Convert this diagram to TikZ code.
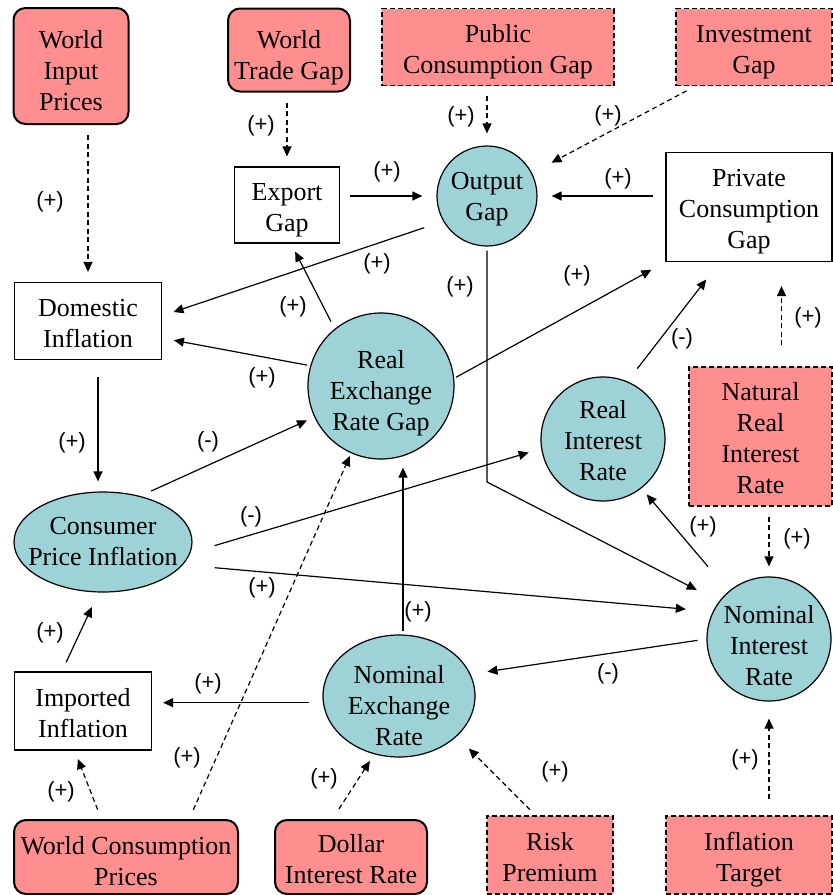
\documentclass[tikz,border=0pt]{standalone}
\usepackage{fontspec}
\setmainfont{Liberation Serif}
\newfontfamily\signfont{Liberation Sans}
\usetikzlibrary{shapes.geometric, arrows.meta}

\definecolor{exopink}{RGB}{255,143,143}
\definecolor{endoteal}{RGB}{157,210,214}

% block text, set a little below the centre of its shape
\newcommand{\blk}[2][-2.2pt]{\raisebox{#1}[\height][\depth]{\begin{tabular}{@{}c@{}}#2\end{tabular}}}

\begin{document}
\begin{tikzpicture}[x=0.5pt, y=-0.5pt,
  every node/.style={font=\fontsize{13}{15.5}\selectfont, inner sep=0pt},
  extbox/.style={draw, line width=1pt, rounded corners=6pt, fill=exopink},
  shockbox/.style={draw, dash pattern=on 2.5pt off 1.5pt, line width=0.6pt, fill=exopink},
  auxbox/.style={draw, line width=0.6pt, fill=white},
  varcirc/.style={draw, circle, inner sep=-3pt, line width=0.6pt, fill=endoteal},
  varellip/.style={draw, ellipse, inner ysep=-6pt, line width=0.6pt, fill=endoteal},
  link/.style={line width=0.6pt, -{Triangle[length=5pt,width=4.5pt]}, shorten <=5pt, shorten >=5pt},
  dlink/.style={link, dash pattern=on 2.5pt off 1.75pt},
  sign/.style={font=\signfont\fontsize{11}{13}\selectfont}
]
\useasboundingbox (0,0) rectangle (833,895);

% exogenous blocks, top row
\node[extbox, minimum width=57.5pt, minimum height=58pt] (wip) at (71,66) {\blk[-3.7pt]{World\\Input\\Prices}};
\node[extbox, minimum width=61pt, minimum height=41.5pt] (wtg) at (289,50) {\blk[-3.7pt]{World\\Trade Gap}};
\node[shockbox, minimum width=116pt, minimum height=38.5pt] (pcg) at (498,47) {\blk{Public\\Consumption Gap}};
\node[shockbox, minimum width=78pt, minimum height=38.5pt] (ivg) at (754,47) {\blk{Investment\\Gap}};

% middle part
\node[auxbox, minimum width=52.5pt, minimum height=38pt] (exg) at (287,205) {\blk{Export\\Gap}};
\node[varcirc, minimum size=50pt] (out) at (487,196) {\blk[-1.2pt]{Output\\Gap}};
\node[auxbox, minimum width=83pt, minimum height=54.5pt] (pvc) at (749,207) {\blk{Private\\Consumption\\Gap}};
\node[auxbox, minimum width=73.5pt, minimum height=38.5pt] (dom) at (88,321) {\blk{Domestic\\Inflation}};
\node[varcirc, minimum size=73pt] (rer) at (381,386) {\blk[-3.7pt]{Real\\Exchange\\Rate Gap}};
\node[varcirc, minimum size=62pt] (rir) at (603,439) {\blk{Real\\Interest\\Rate}};
\node[shockbox, minimum width=71.5pt, minimum height=69.5pt] (nrr) at (760.5,436.5) {\blk{Natural\\Real\\Interest\\Rate}};
\node[varellip, inner xsep=-8pt, minimum width=89pt, minimum height=50pt] (cpi) at (103,542) {\blk[-0.7pt]{Consumer\\Price Inflation}};
\node[varcirc, minimum size=62pt] (nir) at (769,639) {\blk[-4.7pt]{Nominal\\Interest\\Rate}};
\node[varellip, minimum width=76pt, minimum height=61pt] (ner) at (399,696) {\blk[-6.2pt]{Nominal\\Exchange\\Rate}};
\node[auxbox, minimum width=68.5pt, minimum height=39pt] (imp) at (83,711) {\blk{Imported\\Inflation}};

% exogenous blocks, bottom row
\node[extbox, minimum width=112pt, minimum height=37pt] (wcp) at (126,857) {\blk[-3.2pt]{World Consumption\\Prices}};
\node[extbox, minimum width=76pt, minimum height=37pt] (dir) at (351,857) {\blk{Dollar\\Interest Rate}};
\node[shockbox, minimum width=63pt, minimum height=39pt] (rsk) at (550,855) {\blk{Risk\\Premium}};
\node[shockbox, minimum width=83pt, minimum height=39pt] (itg) at (749,855) {\blk{Inflation\\Target}};

\coordinate (bend) at (487,482);

% links
\draw[dlink] (dom.north |- wip.south) -- (dom.north);
\draw[dlink] (exg.north |- wtg.south) -- (exg.north);
\draw[link, shorten >=7pt] (exg.east |- out.west) -- (out.west);
\draw[dlink, shorten >=6pt] (out.north |- pcg.south) -- (out.north);
\draw[dlink, shorten >=11pt] ([xshift=10pt]ivg.south west) -- (out.27);
\draw[link, shorten <=6pt, shorten >=7pt] (pvc.west |- out.east) -- (out.east);
\draw[link, shorten <=10pt, shorten >=6pt] (out.210) -- (dom.4);
\draw[link, shorten <=2pt, shorten >=12.5pt] (out.south) -- (bend) -- (nir.143);
\draw[link, shorten <=4pt, shorten >=4.5pt] (rer.129) -- (exg.276);
\draw[link, shorten <=1.5pt, shorten >=6pt] (rer.164) -- (dom.347);
\draw[link, shorten <=1pt, shorten >=8pt] (rer.6) -- (pvc.south west);
\draw[link, shorten <=8pt, shorten >=11pt] (rir.67) -- (pvc.242);
\draw[dlink, shorten <=10.5pt, shorten >=12pt] ([xshift=10.5pt]nrr.north) -- ([xshift=10.5pt]nrr.north |- pvc.south);
\draw[dlink] (nir.north |- nrr.south) -- (nir.north);
\draw[link, shorten <=8.5pt] ([xshift=5pt]dom.south) -- ([xshift=5pt]dom.south |- cpi.north);
\draw[link, shorten <=6pt, shorten >=4pt] (cpi.51) -- (rer.205);
\draw[link, shorten <=12.5pt, shorten >=6.5pt] (cpi.353) -- (rir.189);
\draw[link, shorten <=16pt, shorten >=13.5pt] (cpi.344) -- (nir.154);
\draw[link, shorten <=16pt, shorten >=4pt] (nir.130) -- (rir.308);
\draw[link, shorten <=4.5pt, shorten >=8.5pt] (nir.west) -- (ner.17);
\draw[link, shorten <=1.5pt, shorten >=4pt] ([xshift=2pt]ner.north) -- ([xshift=2pt]ner.north |- rer.south);
\draw[link, shorten <=7pt, shorten >=5.5pt] (ner.185) -- (ner.185 -| imp.east);
\draw[link, shorten >=8pt] (imp.118) -- (cpi.265);
\draw[dlink, shorten >=4.5pt] (wcp.123) -- (imp.258);
\draw[dlink, shorten >=1.5pt] (wcp.31) -- (rer.246);
\draw[dlink, shorten <=6pt, shorten >=4pt] (dir.116) -- (ner.247);
\draw[dlink, shorten <=4pt, shorten >=8.5pt] (rsk.110) -- (ner.325);
\draw[dlink, shorten <=8pt, shorten >=8.5pt] (nir.south |- itg.north) -- (nir.south);

% signs
\foreach \x/\y/\lbl [count=\i] in {50/202/(+), 261/126/(+), 387/172/(+), 461/117/(+),
  608/116/(+), 618/179/(+), 377/264/(+), 460/287/(+), 293/307/(+), 262/378/(+),
  577/276/(+), 682/339/(-), 808/318/(+), 797/539/(+), 72/443/(+), 208/442/(-),
  251/517/(-), 262/588/(+), 703/527/(+), 608/674/(-), 418/612/(+), 208/684/(+),
  50/633/(+), 61/792/(+), 187/758/(+), 324/779/(+), 555/772/(+), 745/760/(+)}
  \node[sign] (sign\i) at (\x,\y) {\lbl};

\end{tikzpicture}
\end{document}
